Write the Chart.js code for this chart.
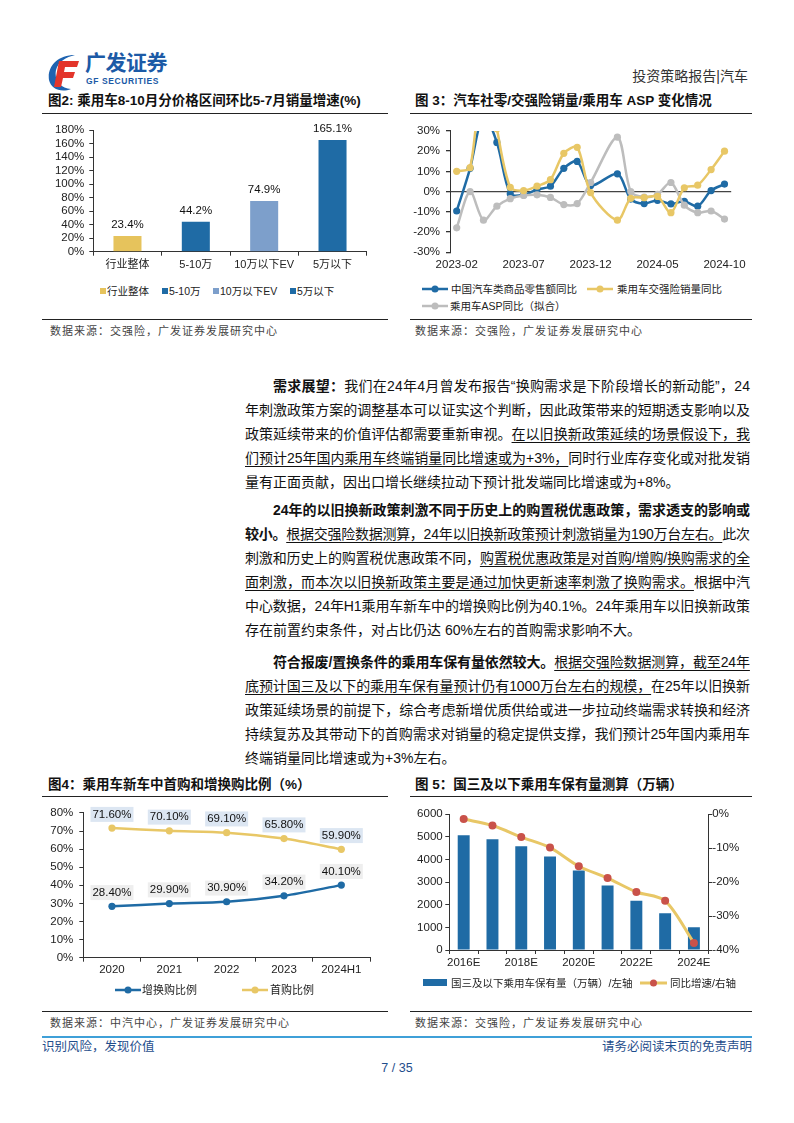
<!DOCTYPE html>
<html lang="zh-CN">
<head>
<meta charset="utf-8">
<title>投资策略报告|汽车 7/35</title>
<script src="https://cdn.jsdelivr.net/npm/chart.js@4.4.1/dist/chart.umd.min.js"></script>
<style>
  body { margin: 0; background: #fff; }
  #page { position: relative; width: 794px; height: 1123px; overflow: hidden; background: #fff;
    font-family: "Liberation Sans", "Noto Sans CJK SC", sans-serif; color: #111; }
  .t { position: absolute; white-space: nowrap; }
  .figtitle { font-size: 13.5px; font-weight: bold; line-height: 18px; color: #111; }
  .rule { position: absolute; height: 0; border-top: 1.4px solid #222; }
  .src { font-size: 11px; line-height: 16px; color: #444; letter-spacing: 1px; }
  .leg { font-size: 10.5px; line-height: 16px; color: #222; }
  .ln { position: absolute; left: 245px; width: 505px; font-size: 14px; line-height: 20px; white-space: nowrap; color: #111; }
  .ln.first { left: 273px; width: 477px; }
  .ln u { text-decoration: underline; text-underline-offset: 3px; text-decoration-thickness: 1px; }
  canvas { position: absolute; }
  .foot { font-size: 12.5px; line-height: 16px; color: #1F4E8C; }
</style>
</head>
<body>
<div id="page">

  <!-- header -->
  <svg class="t" style="left:44px;top:52px" width="38" height="40" viewBox="0 0 38 40">
    <path d="M31,3 C13,3 3,15 5,28 C7,37 17,41 27,37 C16,36 10,28 12,18 C14,10 22,5 31,3 Z" fill="#1E63B0"/>
    <path d="M15,9 L35,9 L33,15 L21,15 L20,20 L31,20 L29,26 L19,26 L17,35 L10,35 Z" fill="#E3352B"/>
  </svg>
  <div class="t" style="left:85px;top:50px;font-size:21px;line-height:26px;font-weight:bold;color:#1C5AA6;letter-spacing:-0.5px">广发证券</div>
  <div class="t" style="left:86px;top:76px;font-size:8.5px;line-height:11px;font-weight:bold;color:#1C5AA6;letter-spacing:0.6px">GF SECURITIES</div>
  <div class="t" style="right:46px;top:67px;font-size:14px;line-height:18px;color:#333">投资策略报告|汽车</div>

  <!-- figure 2 / figure 3 -->
  <div class="t figtitle" style="left:48px;top:92px">图2: 乘用车8-10月分价格区间环比5-7月销量增速(%)</div>
  <div class="rule" style="left:42px;top:113px;width:346px"></div>
  <div class="t figtitle" style="left:415px;top:92px">图 3：汽车社零/交强险销量/乘用车 ASP 变化情况</div>
  <div class="rule" style="left:410px;top:113px;width:342px"></div>

  <canvas id="fig2" width="346" height="160" style="left:42px;top:118px"></canvas>
  <canvas id="fig3" width="342" height="160" style="left:410px;top:118px"></canvas>

  <div class="t" style="left:100px;top:288px;width:6px;height:6px;background:#E6C35C"></div>
  <div class="t leg" style="left:107px;top:283px">行业整体</div>
  <div class="t" style="left:162px;top:288px;width:6px;height:6px;background:#1F6BA5"></div>
  <div class="t leg" style="left:169px;top:283px">5-10万</div>
  <div class="t" style="left:213px;top:288px;width:6px;height:6px;background:#7D9FCB"></div>
  <div class="t leg" style="left:220px;top:283px">10万以下EV</div>
  <div class="t" style="left:290px;top:288px;width:6px;height:6px;background:#1F6BA5"></div>
  <div class="t leg" style="left:297px;top:283px">5万以下</div>

  <svg class="t" style="left:422px;top:284px" width="26" height="10"><line x1="0" y1="5" x2="26" y2="5" stroke="#1F6BA5" stroke-width="2.5"/><circle cx="13" cy="5" r="3.5" fill="#1F6BA5"/></svg>
  <div class="t leg" style="left:451px;top:281px">中国汽车类商品零售额同比</div>
  <svg class="t" style="left:587px;top:284px" width="26" height="10"><line x1="0" y1="5" x2="26" y2="5" stroke="#E8C766" stroke-width="2.5"/><circle cx="13" cy="5" r="3.5" fill="#E8C766"/></svg>
  <div class="t leg" style="left:617px;top:281px">乘用车交强险销量同比</div>
  <svg class="t" style="left:422px;top:301px" width="26" height="10"><line x1="0" y1="5" x2="26" y2="5" stroke="#BDBDBD" stroke-width="2.5"/><circle cx="13" cy="5" r="3.5" fill="#BDBDBD"/></svg>
  <div class="t leg" style="left:450px;top:298px">乘用车ASP同比（拟合）</div>

  <div class="rule" style="left:42px;top:319px;width:346px"></div>
  <div class="rule" style="left:410px;top:319px;width:342px"></div>
  <div class="t src" style="left:50px;top:323px">数据来源：交强险，广发证券发展研究中心</div>
  <div class="t src" style="left:415px;top:323px">数据来源：交强险，广发证券发展研究中心</div>

  <!-- body text -->
  <div class="ln first" style="top:376px"><b>需求展望：</b>我们在24年4月曾发布报告“换购需求是下阶段增长的新动能”，24</div>
  <div class="ln" style="top:400px">年刺激政策方案的调整基本可以证实这个判断，因此政策带来的短期透支影响以及</div>
  <div class="ln" style="top:424px">政策延续带来的价值评估都需要重新审视。<u>在以旧换新政策延续的场景假设下，我</u></div>
  <div class="ln" style="top:448px"><u>们预计25年国内乘用车终端销量同比增速或为+3%，</u>同时行业库存变化或对批发销</div>
  <div class="ln last" style="top:472px">量有正面贡献，因出口增长继续拉动下预计批发端同比增速或为+8%。</div>

  <div class="ln first" style="top:500px"><b>24年的以旧换新政策刺激不同于历史上的购置税优惠政策，需求透支的影响或</b></div>
  <div class="ln" style="top:524px"><b>较小。</b><u>根据交强险数据测算，24年以旧换新政策预计刺激销量为190万台左右。</u>此次</div>
  <div class="ln" style="top:548px">刺激和历史上的购置税优惠政策不同，<u>购置税优惠政策是对首购/增购/换购需求的全</u></div>
  <div class="ln" style="top:572px"><u>面刺激，而本次以旧换新政策主要是通过加快更新速率刺激了换购需求。</u>根据中汽</div>
  <div class="ln" style="top:596px">中心数据，24年H1乘用车新车中的增换购比例为40.1%。24年乘用车以旧换新政策</div>
  <div class="ln last" style="top:620px">存在前置约束条件，对占比仍达 60%左右的首购需求影响不大。</div>

  <div class="ln first" style="top:652px"><b>符合报废/置换条件的乘用车保有量依然较大。</b><u>根据交强险数据测算，截至24年</u></div>
  <div class="ln" style="top:676px"><u>底预计国三及以下的乘用车保有量预计仍有1000万台左右的规模，</u>在25年以旧换新</div>
  <div class="ln" style="top:700px">政策延续场景的前提下，综合考虑新增优质供给或进一步拉动终端需求转换和经济</div>
  <div class="ln" style="top:724px">持续复苏及其带动下的首购需求对销量的稳定提供支撑，我们预计25年国内乘用车</div>
  <div class="ln last" style="top:748px">终端销量同比增速或为+3%左右。</div>

  <!-- figure 4 / figure 5 -->
  <div class="t figtitle" style="left:48px;top:776px">图4：乘用车新车中首购和增换购比例（%）</div>
  <div class="rule" style="left:42px;top:796px;width:346px"></div>
  <div class="t figtitle" style="left:415px;top:776px">图 5：国三及以下乘用车保有量测算（万辆）</div>
  <div class="rule" style="left:410px;top:796px;width:342px"></div>

  <canvas id="fig4" width="346" height="185" style="left:42px;top:800px"></canvas>
  <canvas id="fig5" width="342" height="180" style="left:410px;top:800px"></canvas>

  <svg class="t" style="left:115px;top:985px" width="26" height="10"><line x1="0" y1="5" x2="26" y2="5" stroke="#1F6BA5" stroke-width="2.5"/><circle cx="13" cy="5" r="3.5" fill="#1F6BA5"/></svg>
  <div class="t leg" style="left:142px;top:982px;font-size:11px">增换购比例</div>
  <svg class="t" style="left:242px;top:985px" width="26" height="10"><line x1="0" y1="5" x2="26" y2="5" stroke="#E8C766" stroke-width="2.5"/><circle cx="13" cy="5" r="3.5" fill="#E8C766"/></svg>
  <div class="t leg" style="left:270px;top:982px;font-size:11px">首购比例</div>

  <div class="t" style="left:423px;top:979px;width:24px;height:7px;background:#1F6BA5"></div>
  <div class="t leg" style="left:451px;top:975px">国三及以下乘用车保有量（万辆）/左轴</div>
  <svg class="t" style="left:640px;top:978px" width="27" height="10"><line x1="0" y1="5" x2="27" y2="5" stroke="#E8C766" stroke-width="3"/><circle cx="13.5" cy="5" r="3.5" fill="#C9524A"/></svg>
  <div class="t leg" style="left:670px;top:975px">同比增速/右轴</div>

  <div class="rule" style="left:42px;top:1011px;width:346px"></div>
  <div class="rule" style="left:410px;top:1011px;width:342px"></div>
  <div class="t src" style="left:50px;top:1015px">数据来源：中汽中心，广发证券发展研究中心</div>
  <div class="t src" style="left:415px;top:1015px">数据来源：交强险，广发证券发展研究中心</div>

  <!-- footer -->
  <div class="t" style="left:42px;top:1036px;width:710px;height:2px;background:#3FA0D8"></div>
  <div class="t foot" style="left:42px;top:1039px">识别风险，发现价值</div>
  <div class="t foot" style="right:42px;top:1039px">请务必阅读末页的免责声明</div>
  <div class="t foot" style="left:0;width:794px;text-align:center;top:1060px">7 / 35</div>
</div>

<script>
// fig 2
const priceCats = ['行业整体', '5-10万', '10万以下EV', '5万以下'];
const priceGrowth = [23.4, 44.2, 74.9, 165.1];

// fig 3
const months = ['2023-02', '2023-03', '2023-04', '2023-05', '2023-06', '2023-07', '2023-08', '2023-09', '2023-10', '2023-11', '2023-12',
                '2024-01', '2024-02', '2024-03', '2024-04', '2024-05', '2024-06', '2024-07', '2024-08', '2024-09', '2024-10'];
const retailYoy    = [-9.6, 11.5, 38.0, 24.3, -1.1, -1.6, 1.1, 2.7, 11.5, 14.9, 3.0, null, 8.8, -3.7, -5.9, -4.3, -6.1, -4.8, -7.2, 0.5, 3.7];
const insuranceYoy = [10.0, 11.8, 65.0, 31.0, 2.1, 0.5, 2.7, 5.9, 18.9, 21.9, -0.5, null, -14.1, -3.3, -3.0, -2.4, -10.4, 1.9, 3.2, 10.9, 20.0];
const aspYoy       = [-17.9, 0.0, -14.1, -7.2, -3.5, -1.9, -1.6, -2.9, -6.4, -5.9, 4.5, null, 26.9, 0.0, -2.7, -1.3, 4.5, -6.7, -10.4, -9.6, -13.6];

// fig 4
const years = ['2020', '2021', '2022', '2023', '2024H1'];
const replaceShare = [28.4, 29.9, 30.9, 34.2, 40.1];
const firstShare = [71.6, 70.1, 69.1, 65.8, 59.9];

// fig 5
const stockYears = ['2016E', '2017E', '2018E', '2019E', '2020E', '2021E', '2022E', '2023E', '2024E'];
const oldStock = [5073, 4897, 4587, 4130, 3510, 2847, 2183, 1622, 1003];
const oldStockYoy = [-1.4, -3.3, -6.7, -9.8, -15.3, -18.8, -22.9, -25.5, -37.9];

const BLUE = '#1F6BA5', GOLD = '#E8C766', GREY = '#BDBDBD', AXIS = '#333';

Chart.defaults.font.family = '"Liberation Sans", "Noto Sans CJK SC", sans-serif';
Chart.defaults.font.size = 11;
Chart.defaults.color = '#222';
Chart.defaults.animation = false;
Chart.defaults.responsive = false;
Chart.defaults.plugins.legend.display = false;
Chart.defaults.plugins.tooltip.enabled = false;

// value labels above bars / points
const valueLabels = {
  id: 'valueLabels',
  afterDatasetsDraw(chart, args, opts) {
    if (!opts || !opts.show) return;
    const ctx = chart.ctx;
    ctx.save();
    ctx.font = '11.5px "Liberation Sans", sans-serif';
    ctx.textAlign = 'center';
    ctx.textBaseline = 'middle';
    chart.data.datasets.forEach((ds, di) => {
      chart.getDatasetMeta(di).data.forEach((el, i) => {
        const txt = ds.data[i].toFixed(opts.decimals) + '%';
        const y = el.y - opts.offset;
        if (opts.bg && opts.bg[di]) {
          ctx.fillStyle = opts.bg[di];
          ctx.fillRect(el.x - 21.5, y - 7.5, 43, 15);
        }
        ctx.fillStyle = '#111';
        ctx.fillText(txt, el.x, y);
      });
    });
    ctx.restore();
  }
};
Chart.register(valueLabels);

const pct = (v) => v + '%';
const plain = (v) => String(v);

new Chart(document.getElementById('fig2'), {
  type: 'bar',
  data: {
    labels: priceCats,
    datasets: [{
      data: priceGrowth,
      backgroundColor: ['#E6C35C', BLUE, '#7D9FCB', BLUE],
      categoryPercentage: 0.5,
      barPercentage: 0.82
    }]
  },
  options: {
    layout: { padding: { top: 12, right: 21.3, left: 0, bottom: 0 } },
    plugins: { valueLabels: { show: true, decimals: 1, offset: 11 } },
    scales: {
      y: {
        min: 0, max: 180,
        ticks: { stepSize: 20, autoSkip: false, callback: pct, padding: 5, font: { size: 11.5 } },
        grid: { drawOnChartArea: false, tickLength: 4, color: AXIS },
        border: { color: AXIS },
        afterFit: (s) => { s.width = 51.3 }
      },
      x: {
        ticks: { padding: 2.7, font: { size: 11 } },
        grid: { drawOnChartArea: false, offset: true, tickLength: 4, color: AXIS },
        border: { color: AXIS },
        afterFit: (s) => { s.height = 26.3 }
      }
    }
  }
});

const lineSet = (data, color, order) => ({
  data: data, borderColor: color, backgroundColor: color, pointBackgroundColor: color,
  borderWidth: 2.5, pointRadius: 3.6, pointBorderWidth: 0, tension: 0.3, spanGaps: true, order: order
});

new Chart(document.getElementById('fig3'), {
  type: 'line',
  data: {
    labels: months,
    datasets: [
      lineSet(retailYoy, BLUE, 2),
      lineSet(insuranceYoy, GOLD, 0),
      lineSet(aspYoy, GREY, 1)
    ]
  },
  options: {
    layout: { padding: { top: 9.3, right: 17, left: 0, bottom: 0 } },
    scales: {
      y: {
        min: -30, max: 30,
        ticks: { stepSize: 10, autoSkip: false, callback: pct, padding: 6, font: { size: 11.5 } },
        grid: {
          color: (c) => (c.tick && c.tick.value === 0) ? '#444' : 'rgba(0,0,0,0)',
          lineWidth: 1.3, tickLength: 4, tickColor: AXIS
        },
        border: { color: AXIS },
        afterFit: (s) => { s.width = 40 }
      },
      x: {
        offset: true,
        ticks: {
          autoSkip: false, maxRotation: 0, padding: 6, font: { size: 11.5 },
          callback: (v, i) => i % 5 === 0 ? months[i] : ''
        },
        grid: { display: false, drawTicks: false },
        border: { display: false },
        afterFit: (s) => { s.height = 25.7 }
      }
    }
  }
});

new Chart(document.getElementById('fig4'), {
  type: 'line',
  data: {
    labels: years,
    datasets: [
      lineSet(replaceShare, BLUE, 1),
      lineSet(firstShare, GOLD, 0)
    ]
  },
  options: {
    layout: { padding: { top: 12.7, right: 18, left: 0, bottom: 0 } },
    plugins: { valueLabels: { show: true, decimals: 2, offset: 13.7, bg: ['#EEEEEE', '#DCE6F2'] } },
    scales: {
      y: {
        min: 0, max: 80,
        ticks: { stepSize: 10, autoSkip: false, callback: pct, padding: 6, font: { size: 11.5 } },
        grid: { drawOnChartArea: false, tickLength: 4, color: AXIS },
        border: { color: AXIS },
        afterFit: (s) => { s.width = 41.3 }
      },
      x: {
        offset: true,
        ticks: { padding: 1, font: { size: 11.5 } },
        grid: { drawOnChartArea: false, offset: true, tickLength: 4, color: AXIS },
        border: { color: AXIS },
        afterFit: (s) => { s.height = 27.3 }
      }
    }
  }
});

new Chart(document.getElementById('fig5'), {
  type: 'bar',
  data: {
    labels: stockYears,
    datasets: [
      {
        type: 'line', data: oldStockYoy, yAxisID: 'y1', order: 0,
        borderColor: GOLD, borderWidth: 3, tension: 0.3,
        pointBackgroundColor: '#C9524A', pointBorderWidth: 0, pointRadius: 4
      },
      {
        type: 'bar', data: oldStock, yAxisID: 'y', order: 1,
        backgroundColor: BLUE, categoryPercentage: 0.5, barPercentage: 0.83
      }
    ]
  },
  options: {
    layout: { padding: { top: 14.3, right: 0, left: 0, bottom: 0 } },
    scales: {
      y: {
        position: 'left', min: 0, max: 6000,
        ticks: { stepSize: 1000, autoSkip: false, callback: plain, padding: 2.6, font: { size: 11.5 } },
        grid: { drawOnChartArea: false, tickLength: 4, color: AXIS },
        border: { color: AXIS },
        afterFit: (s) => { s.width = 39.3 }
      },
      y1: {
        position: 'right', min: -40, max: 0,
        ticks: { stepSize: 10, autoSkip: false, callback: pct, padding: 0, font: { size: 11.5 } },
        grid: { drawOnChartArea: false, tickLength: 4, color: AXIS },
        border: { color: AXIS },
        afterFit: (s) => { s.width = 43.7 }
      },
      x: {
        ticks: { autoSkip: false, maxRotation: 0, padding: 1.8, font: { size: 11.5 },
                 callback: (v, i) => i % 2 === 0 ? stockYears[i] : '' },
        grid: { drawOnChartArea: false, offset: true, tickLength: 4, color: AXIS },
        border: { color: AXIS },
        afterFit: (s) => { s.height = 30 }
      }
    }
  }
});

// justify body lines to the column width
function justifyLines() {
  document.querySelectorAll('.ln').forEach(function (el) {
    if (el.classList.contains('last')) return;
    var inner = document.createElement('span');
    while (el.firstChild) inner.appendChild(el.firstChild);
    el.appendChild(inner);
    var target = el.clientWidth;
    var w = inner.getBoundingClientRect().width;
    var n = inner.textContent.length;
    var ls = (target - w) / (n - 1);
    inner.style.letterSpacing = ls + 'px';
  });
}
if (document.fonts && document.fonts.ready) document.fonts.ready.then(justifyLines);
else justifyLines();
</script>
</body>
</html>
